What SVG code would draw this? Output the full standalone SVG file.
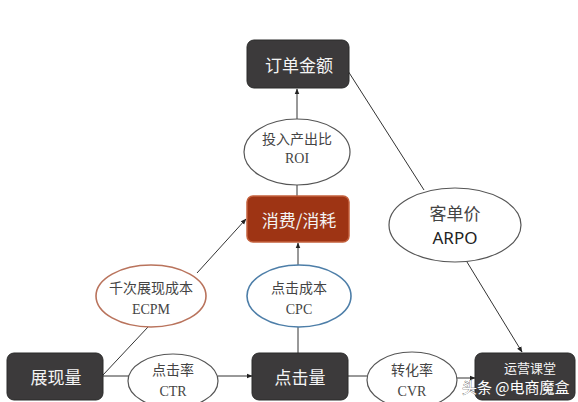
<svg xmlns="http://www.w3.org/2000/svg" width="578" height="402" viewBox="0 0 578 402">
<defs>
<marker id="arr" viewBox="0 0 10 10" refX="9" refY="5" markerWidth="6" markerHeight="6" orient="auto-start-reverse">
<path d="M0,1 L10,5 L0,9 z" fill="#222"/>
</marker>
<style>
.box{fill:#3c3a3b;stroke:#2a2a2a;stroke-width:1}
.red{fill:#9e3414;stroke:#c4603c;stroke-width:1.5}
.bt{font-family:"Noto Sans CJK SC","Noto Sans",sans-serif;font-size:17px;fill:#f4f4f4;text-anchor:middle;dominant-baseline:central}
.el{fill:#fff;stroke:#555;stroke-width:1.2}
.et{font-family:"Liberation Serif","Noto Sans CJK SC",serif;font-size:14px;fill:#444;text-anchor:middle}
.ln{stroke:#333;stroke-width:1;fill:none}
</style>
</defs>
<rect width="578" height="402" fill="#ffffff"/>
<g id="connectors">
<line class="ln" x1="297" y1="119" x2="297" y2="89" marker-end="url(#arr)"/>
<line class="ln" x1="297" y1="196" x2="297" y2="185"/>
<line class="ln" x1="298" y1="265" x2="298" y2="243" marker-end="url(#arr)"/>
<line class="ln" x1="298" y1="353" x2="298" y2="327"/>
<line class="ln" x1="197" y1="273" x2="246" y2="219" marker-end="url(#arr)"/>
<line class="ln" x1="103" y1="375" x2="148" y2="327"/>
<line class="ln" x1="103" y1="376" x2="129" y2="376"/>
<line class="ln" x1="218" y1="376" x2="252" y2="376" marker-end="url(#arr)"/>
<line class="ln" x1="348" y1="376" x2="368" y2="376"/>
<line class="ln" x1="457" y1="378" x2="475" y2="378" marker-end="url(#arr)"/>
<line class="ln" x1="348" y1="71" x2="424" y2="190"/>
<line class="ln" x1="467" y1="262" x2="522" y2="352" marker-end="url(#arr)"/>
</g>
<g id="n-order">
<rect class="box" x="247" y="40" width="102" height="48" rx="7"/>
<text class="bt" x="299" y="64">订单金额</text>
</g>
<g id="n-roi">
<ellipse class="el" cx="297" cy="152" rx="53" ry="33"/>
<text class="et" x="297" y="144">投入产出比</text>
<text class="et" x="297" y="163">ROI</text>
</g>
<g id="n-spend">
<rect class="red" x="247" y="196" width="102" height="46" rx="6"/>
<text class="bt" x="299" y="219">消费/消耗</text>
</g>
<g id="n-ecpm">
<ellipse class="el" style="stroke:#b9735c;stroke-width:1.6" cx="151" cy="296" rx="55" ry="31"/>
<text class="et" x="151" y="293">千次展现成本</text>
<text class="et" x="151" y="314">ECPM</text>
</g>
<g id="n-cpc">
<ellipse class="el" style="stroke:#4d7ea8;stroke-width:1.6" cx="299" cy="296" rx="52" ry="31"/>
<text class="et" x="299" y="293">点击成本</text>
<text class="et" x="299" y="314">CPC</text>
</g>
<g id="n-arpo">
<ellipse class="el" cx="455" cy="225" rx="66" ry="37"/>
<text x="455" y="220" style="font-family:'Noto Sans CJK SC',sans-serif;font-size:17px;fill:#444;text-anchor:middle">客单价</text>
<text x="455" y="244" style="font-family:'Noto Sans','Liberation Sans',sans-serif;font-size:17px;fill:#222;text-anchor:middle">ARPO</text>
</g>
<g id="n-impr">
<rect class="box" x="7" y="353" width="96" height="47" rx="7"/>
<text class="bt" x="56" y="376">展现量</text>
</g>
<g id="n-ctr">
<ellipse class="el" cx="173" cy="381" rx="45" ry="27"/>
<text class="et" x="173" y="375">点击率</text>
<text class="et" x="173" y="396">CTR</text>
</g>
<g id="n-click">
<rect class="box" x="252" y="353" width="96" height="47" rx="7"/>
<text class="bt" x="300" y="376">点击量</text>
</g>
<g id="n-cvr">
<ellipse class="el" cx="412" cy="380" rx="45" ry="28"/>
<text class="et" x="412" y="375">转化率</text>
<text class="et" x="412" y="396">CVR</text>
</g>
<g id="n-end">
<rect class="box" x="475" y="353" width="100" height="47" rx="7"/>
<text class="bt" style="font-size:13px" x="530" y="367">运营课堂</text>
</g>
<g id="watermark">
<text x="462" y="393" style="font-family:'Noto Sans CJK SC',sans-serif;font-size:15px;fill:#fff;stroke:#444;stroke-width:0.6;paint-order:stroke">头条 @电商魔盒</text>
</g>
</svg>
